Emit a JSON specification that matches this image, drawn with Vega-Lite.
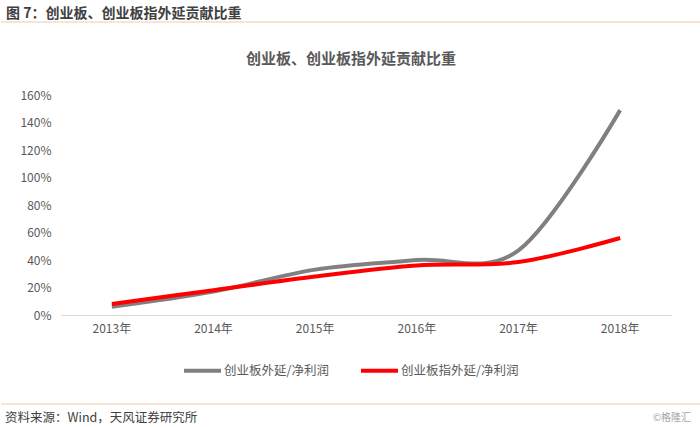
{
  "$schema": "https://vega.github.io/schema/vega-lite/v6.json",
  "background": "white",
  "padding": {"top": 7, "left": 0, "right": 0, "bottom": 0},
  "columns": 1,
  "spacing": 29,
  "resolve": {"scale": {"x": "independent", "y": "independent"}},
  "config": {
    "view": {"stroke": null},
    "font": "Noto Sans CJK SC"
  },
  "concat": [
    {
      "width": 640,
      "height": 1,
      "data": {"values": [{"level": 0}]},
      "title": {
        "text": "图 7：创业板、创业板指外延贡献比重",
        "anchor": "start",
        "frame": "group",
        "dx": -55,
        "fontSize": 14,
        "fontWeight": "bold",
        "color": "#404040",
        "offset": 0
      },
      "mark": {"type": "rule", "stroke": "#F2CAA8", "strokeWidth": 1.2},
      "encoding": {
        "x": {"datum": -0.09375, "type": "quantitative", "scale": {"domain": [0, 1]}, "axis": null},
        "x2": {"datum": 1},
        "y": {"field": "level", "type": "quantitative", "scale": {"domain": [0, 1]}, "axis": null}
      }
    },
    {
      "width": 610,
      "height": 220,
      "data": {
        "values": [
          {"year": "2013年", "series": "创业板外延/净利润", "value": 0.06},
          {"year": "2014年", "series": "创业板外延/净利润", "value": 0.17},
          {"year": "2015年", "series": "创业板外延/净利润", "value": 0.33},
          {"year": "2016年", "series": "创业板外延/净利润", "value": 0.40},
          {"year": "2017年", "series": "创业板外延/净利润", "value": 0.47},
          {"year": "2018年", "series": "创业板外延/净利润", "value": 1.49},
          {"year": "2013年", "series": "创业板指外延/净利润", "value": 0.08},
          {"year": "2014年", "series": "创业板指外延/净利润", "value": 0.18},
          {"year": "2015年", "series": "创业板指外延/净利润", "value": 0.28},
          {"year": "2016年", "series": "创业板指外延/净利润", "value": 0.36},
          {"year": "2017年", "series": "创业板指外延/净利润", "value": 0.385},
          {"year": "2018年", "series": "创业板指外延/净利润", "value": 0.56}
        ]
      },
      "title": {
        "text": "创业板、创业板指外延贡献比重",
        "anchor": "middle",
        "frame": "group",
        "dx": -15,
        "fontSize": 15,
        "fontWeight": "bold",
        "color": "#595959",
        "offset": 22
      },
      "mark": {"type": "line", "strokeWidth": 4, "interpolate": "cardinal", "tension": 0},
      "encoding": {
        "x": {
          "field": "year",
          "type": "ordinal",
          "scale": {"type": "band", "paddingInner": 0, "paddingOuter": 0},
          "axis": {
            "title": null,
            "labelAngle": 0,
            "ticks": false,
            "domainColor": "#D9D9D9",
            "domainWidth": 1,
            "labelColor": "#595959",
            "labelFontSize": 12,
            "labelPadding": 8,
            "grid": false
          }
        },
        "y": {
          "field": "value",
          "type": "quantitative",
          "scale": {"domain": [0, 1.6], "nice": false},
          "axis": {
            "title": null,
            "format": ".0%",
            "values": [0, 0.2, 0.4, 0.6, 0.8, 1.0, 1.2, 1.4, 1.6],
            "domain": false,
            "ticks": false,
            "grid": false,
            "labelColor": "#595959",
            "labelFontSize": 12,
            "labelPadding": 10,
            "minExtent": 60,
            "maxExtent": 60
          }
        },
        "color": {
          "field": "series",
          "type": "nominal",
          "scale": {
            "domain": ["创业板外延/净利润", "创业板指外延/净利润"],
            "range": ["#808080", "#FF0000"]
          },
          "legend": {
            "title": null,
            "orient": "none",
            "direction": "horizontal",
            "legendX": 121,
            "legendY": 329,
            "symbolType": "stroke",
            "symbolStrokeWidth": 4,
            "symbolSize": 1369,
            "labelFontSize": 12.5,
            "labelColor": "#595959",
            "labelOffset": 1,
            "columnPadding": 24
          }
        }
      }
    },
    {
      "width": 640,
      "height": 41,
      "data": {"values": [{"level": 0}]},
      "encoding": {
        "y": {"field": "level", "type": "quantitative", "scale": {"domain": [0, 1]}, "axis": null}
      },
      "layer": [
        {
          "mark": {"type": "rule", "stroke": "#F2CAA8", "strokeWidth": 1.2},
          "encoding": {
            "x": {"datum": -0.09375, "type": "quantitative", "scale": {"domain": [0, 1]}, "axis": null},
            "x2": {"datum": 1}
          }
        },
        {
          "mark": {"type": "text", "align": "left", "baseline": "middle", "fontSize": 12.5, "color": "#404040", "dx": 4, "dy": 14},
          "encoding": {
            "x": {"datum": -0.09375, "type": "quantitative"},
            "text": {"value": "资料来源：Wind，天风证券研究所"}
          }
        },
        {
          "mark": {"type": "text", "align": "right", "baseline": "middle", "fontSize": 10, "color": "#A6A6A6", "dx": -10, "dy": 14},
          "encoding": {
            "x": {"datum": 1, "type": "quantitative"},
            "text": {"value": "©格隆汇"}
          }
        }
      ]
    }
  ]
}
